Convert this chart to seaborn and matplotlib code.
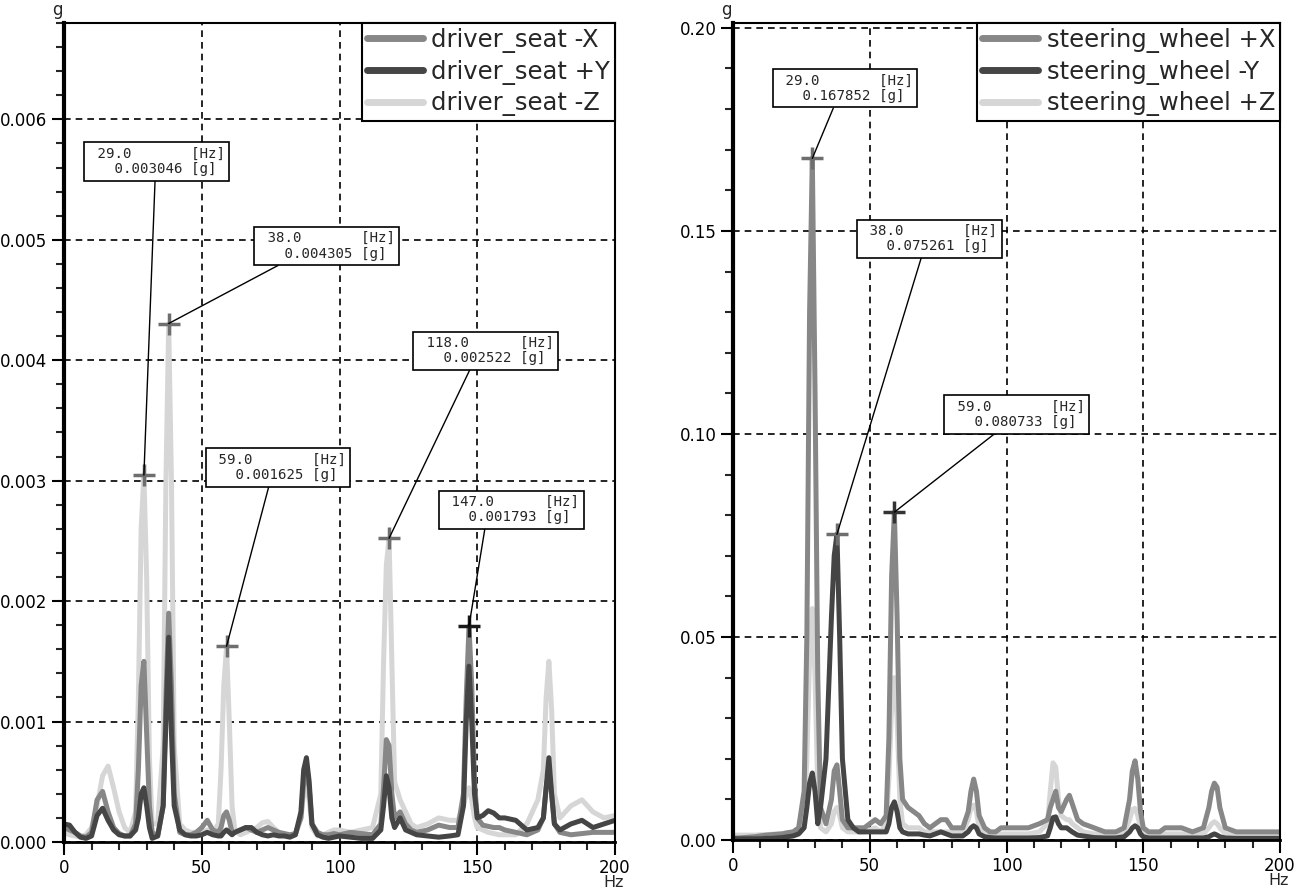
import numpy as np
import pandas as pd
import matplotlib
matplotlib.use("Agg")
import matplotlib.pyplot as plt
from matplotlib.ticker import MultipleLocator, FormatStrFormatter
import seaborn as sns

# ---------------- data ----------------
freq_hz = [0, 2, 4, 6, 8, 10, 12, 14, 16, 18,
           20, 22, 24, 26, 27, 28, 29, 30, 31, 32,
           34, 36, 37, 38, 39, 40, 42, 44, 46, 48,
           50, 52, 54, 56, 57, 58, 59, 60, 61, 62,
           64, 66, 68, 70, 72, 74, 76, 78, 80, 82,
           84, 86, 87, 88, 89, 90, 92, 94, 96, 98,
           100, 104, 108, 112, 115, 116, 117, 118, 119, 120,
           122, 123, 124, 126, 128, 132, 136, 140, 143, 145,
           146, 147, 148, 149, 150, 152, 154, 156, 158, 160,
           164, 168, 172, 174, 175, 176, 177, 178, 180, 184,
           188, 192, 196, 200]

# driver seat, values in mg (1e-3 g)
seat_x_mg = [0.12, 0.10, 0.08, 0.05, 0.04, 0.08, 0.35, 0.42, 0.25, 0.12,
             0.07, 0.05, 0.05, 0.15, 0.6, 1.3, 1.5, 0.9, 0.3, 0.08,
             0.05, 0.3, 1.2, 1.9, 1.3, 0.4, 0.08, 0.06, 0.06, 0.08,
             0.12, 0.18, 0.10, 0.08, 0.12, 0.22, 0.25, 0.18, 0.08, 0.08,
             0.10, 0.12, 0.10, 0.08, 0.10, 0.12, 0.10, 0.08, 0.07, 0.06,
             0.07, 0.20, 0.50, 0.60, 0.45, 0.15, 0.08, 0.06, 0.06, 0.07,
             0.06, 0.08, 0.07, 0.06, 0.15, 0.45, 0.85, 0.80, 0.40, 0.20,
             0.25, 0.20, 0.15, 0.10, 0.08, 0.10, 0.14, 0.12, 0.12, 0.40,
             1.2, 1.79, 1.3, 0.5, 0.2, 0.14, 0.13, 0.12, 0.12, 0.10,
             0.08, 0.06, 0.10, 0.20, 0.45, 0.60, 0.40, 0.15, 0.08, 0.06,
             0.07, 0.08, 0.08, 0.08]
seat_y_mg = [0.15, 0.14, 0.08, 0.04, 0.03, 0.05, 0.22, 0.28, 0.18, 0.10,
             0.06, 0.05, 0.05, 0.10, 0.20, 0.40, 0.45, 0.30, 0.12, 0.03,
             0.05, 0.30, 1.0, 1.7, 0.9, 0.30, 0.10, 0.06, 0.05, 0.05,
             0.06, 0.08, 0.06, 0.05, 0.05, 0.08, 0.10, 0.08, 0.06, 0.08,
             0.10, 0.12, 0.12, 0.08, 0.06, 0.05, 0.06, 0.05, 0.05, 0.04,
             0.06, 0.25, 0.60, 0.70, 0.50, 0.15, 0.06, 0.04, 0.03, 0.04,
             0.05, 0.04, 0.03, 0.03, 0.10, 0.30, 0.55, 0.45, 0.20, 0.12,
             0.20, 0.15, 0.10, 0.08, 0.06, 0.05, 0.04, 0.05, 0.06, 0.30,
             1.0, 1.46, 1.0, 0.40, 0.20, 0.22, 0.26, 0.24, 0.20, 0.20,
             0.18, 0.10, 0.12, 0.20, 0.45, 0.70, 0.40, 0.15, 0.10, 0.15,
             0.18, 0.12, 0.15, 0.18]
seat_z_mg = [0.08, 0.06, 0.05, 0.04, 0.06, 0.12, 0.30, 0.55, 0.63, 0.45,
             0.25, 0.12, 0.08, 0.25, 1.2, 2.6, 3.05, 2.2, 0.7, 0.15,
             0.15, 0.8, 3.0, 4.3, 3.0, 0.8, 0.15, 0.10, 0.08, 0.08,
             0.08, 0.10, 0.08, 0.15, 0.6, 1.3, 1.62, 1.0, 0.30, 0.10,
             0.06, 0.08, 0.10, 0.12, 0.16, 0.17, 0.12, 0.08, 0.06, 0.05,
             0.06, 0.20, 0.40, 0.46, 0.35, 0.12, 0.05, 0.06, 0.08, 0.10,
             0.10, 0.08, 0.10, 0.12, 0.40, 1.5, 2.3, 2.52, 1.5, 0.5,
             0.35, 0.30, 0.25, 0.15, 0.12, 0.15, 0.20, 0.18, 0.18, 0.30,
             0.40, 0.45, 0.35, 0.20, 0.12, 0.10, 0.08, 0.07, 0.06, 0.06,
             0.06, 0.15, 0.35, 0.60, 1.2, 1.5, 1.1, 0.40, 0.20, 0.30,
             0.35, 0.25, 0.20, 0.22]

# steering wheel, values in g
wheel_x_g = [0.0005, 0.0005, 0.0006, 0.0007, 0.0008, 0.001, 0.0012, 0.0013, 0.0014, 0.0015,
             0.0018, 0.002, 0.003, 0.012, 0.05, 0.13, 0.1679, 0.11, 0.04, 0.008,
             0.004, 0.01, 0.017, 0.0185, 0.012, 0.005, 0.003, 0.003, 0.003, 0.003,
             0.004, 0.005, 0.004, 0.006, 0.025, 0.065, 0.0807, 0.055, 0.02, 0.01,
             0.008, 0.007, 0.006, 0.004, 0.003, 0.004, 0.005, 0.005, 0.003, 0.003,
             0.003, 0.007, 0.012, 0.015, 0.012, 0.006, 0.003, 0.002, 0.002, 0.003,
             0.003, 0.003, 0.003, 0.004, 0.005, 0.008, 0.010, 0.012, 0.008, 0.007,
             0.010, 0.011, 0.009, 0.005, 0.004, 0.003, 0.002, 0.002, 0.003, 0.010,
             0.017, 0.0195, 0.015, 0.007, 0.003, 0.002, 0.002, 0.002, 0.003, 0.003,
             0.003, 0.002, 0.003, 0.008, 0.012, 0.014, 0.013, 0.008, 0.003, 0.002,
             0.002, 0.002, 0.002, 0.002]
wheel_y_g = [0.0003, 0.0003, 0.0003, 0.0003, 0.0003, 0.0003, 0.0004, 0.0004, 0.0005, 0.0006,
             0.0008, 0.001, 0.0015, 0.003, 0.008, 0.014, 0.0165, 0.012, 0.004, 0.008,
             0.02, 0.055, 0.07, 0.0753, 0.05, 0.02, 0.005, 0.003, 0.002, 0.002,
             0.002, 0.002, 0.002, 0.002, 0.004, 0.008, 0.0094, 0.007, 0.003, 0.002,
             0.0015, 0.0015, 0.0015, 0.0012, 0.001, 0.0015, 0.002, 0.0015, 0.001, 0.001,
             0.001, 0.002, 0.003, 0.0035, 0.003, 0.0015, 0.0008, 0.0006, 0.0005, 0.0005,
             0.0005, 0.0005, 0.0005, 0.0006, 0.001, 0.003, 0.0055, 0.0057, 0.004, 0.003,
             0.003, 0.0025, 0.002, 0.0012, 0.001, 0.0006, 0.0005, 0.0005, 0.0008, 0.002,
             0.003, 0.0035, 0.003, 0.0015, 0.0008, 0.0005, 0.0005, 0.0005, 0.0005, 0.0005,
             0.0005, 0.0005, 0.0005, 0.0008, 0.0012, 0.0015, 0.0012, 0.0008, 0.0005, 0.0004,
             0.0004, 0.0004, 0.0004, 0.0004]
wheel_z_g = [0.0012, 0.0012, 0.0012, 0.0012, 0.0012, 0.0013, 0.0013, 0.0014, 0.0015, 0.0016,
             0.0018, 0.002, 0.002, 0.005, 0.02, 0.045, 0.057, 0.04, 0.012, 0.003,
             0.002, 0.004, 0.007, 0.008, 0.006, 0.003, 0.002, 0.002, 0.002, 0.002,
             0.0025, 0.003, 0.002, 0.004, 0.015, 0.033, 0.04, 0.03, 0.01, 0.004,
             0.003, 0.003, 0.003, 0.002, 0.002, 0.002, 0.002, 0.002, 0.002, 0.002,
             0.002, 0.005, 0.008, 0.0086, 0.007, 0.003, 0.002, 0.0015, 0.0015, 0.0015,
             0.0015, 0.0015, 0.0015, 0.002, 0.004, 0.012, 0.019, 0.018, 0.010, 0.006,
             0.005, 0.005, 0.004, 0.003, 0.002, 0.0015, 0.0015, 0.0015, 0.002, 0.005,
             0.0075, 0.0078, 0.006, 0.003, 0.002, 0.0015, 0.0015, 0.0015, 0.0015, 0.0015,
             0.0015, 0.0015, 0.0015, 0.003, 0.004, 0.0045, 0.004, 0.003, 0.0015, 0.0015,
             0.0015, 0.0015, 0.0015, 0.0015]

seat_labels = ["driver_seat -X", "driver_seat +Y", "driver_seat -Z"]
wheel_labels = ["steering_wheel +X", "steering_wheel -Y", "steering_wheel +Z"]

seat_peak_hz = [29.0, 38.0, 59.0, 118.0, 147.0]
seat_peak_g = [0.003046, 0.004305, 0.001625, 0.002522, 0.001793]
wheel_peak_hz = [29.0, 38.0, 59.0]
wheel_peak_g = [0.167852, 0.075261, 0.080733]

# ---------------- layout / style ----------------
series_colors = ["#878787", "#454545", "#d6d6d6"]
marker_colors_seat = ["#6e6e6e", "#6e6e6e", "#6e6e6e", "#6e6e6e", "#1a1a1a"]
marker_colors_wheel = ["#6e6e6e", "#6e6e6e", "#333333"]
# box centres (data coords) and relative anchor of the leader line on the box
seat_boxes = [(33.6, 0.00565, 0.49), (95.3, 0.00495, 0.21), (77.7, 0.00311, 0.44),
              (153.0, 0.00408, 0.40), (162.4, 0.00276, 0.31)]
wheel_boxes = [(40.9, 0.1851, 0.43), (71.8, 0.1481, 0.45), (103.7, 0.1048, 0.38)]

sns.set_style("white")
plt.rcParams["font.family"] = ["DejaVu Sans"]

fig = plt.figure(figsize=(12.96, 8.9), dpi=100)
ax1 = fig.add_axes([64 / 1296, 1 - 842 / 890, 551 / 1296, 819 / 890])
ax2 = fig.add_axes([733 / 1296, 1 - 840 / 890, 547 / 1296, 817 / 890])


def build_df(values_list, labels, scale):
    frames = []
    for vals, lab in zip(values_list, labels):
        frames.append(pd.DataFrame({"Hz": freq_hz,
                                    "g": np.asarray(vals, dtype=float) * scale,
                                    "series": lab}))
    return pd.concat(frames, ignore_index=True)


df_seat = build_df([seat_x_mg, seat_y_mg, seat_z_mg], seat_labels, 1e-3)
df_wheel = build_df([wheel_x_g, wheel_y_g, wheel_z_g], wheel_labels, 1.0)


def draw_panel(ax, df, labels, ylim, ymajor, yminor, yfmt, peaks_hz, peaks_g,
               boxes, mcolors):
    sns.lineplot(data=df, x="Hz", y="g", hue="series", hue_order=labels,
                 palette=series_colors, estimator=None, sort=False,
                 linewidth=3.6, ax=ax, legend=False)
    # light series drawn behind
    for ln, z in zip(ax.lines, [2.2, 2.4, 2.0]):
        ln.set_zorder(z)
    ax.set_xlim(0, 200)
    ax.set_ylim(*ylim)
    ax.xaxis.set_major_locator(MultipleLocator(50))
    ax.xaxis.set_minor_locator(MultipleLocator(10))
    ax.yaxis.set_major_locator(MultipleLocator(ymajor))
    ax.yaxis.set_minor_locator(MultipleLocator(yminor))
    ax.yaxis.set_major_formatter(FormatStrFormatter(yfmt))
    ax.xaxis.set_major_formatter(FormatStrFormatter("%d"))
    ax.grid(True, which="major", color="black", linestyle=(0, (4, 3)), linewidth=1.2)
    ax.tick_params(axis="both", which="major", direction="out", length=9, width=1.5,
                   labelsize=12, colors="black", left=True, bottom=True, pad=3)
    ax.tick_params(axis="both", which="minor", direction="out", length=6, width=1.5,
                   left=True, bottom=True)
    for side, sp in ax.spines.items():
        sp.set_visible(True)
        sp.set_color("black")
        sp.set_linewidth(1.5)
    ax.spines["left"].set_linewidth(3)
    ax.spines["bottom"].set_linewidth(2)
    ax.set_xlabel("")
    ax.set_ylabel("")
    ax.annotate("g", xy=(0, 1), xycoords="axes fraction", xytext=(-5, 3),
                textcoords="offset points", ha="center", va="bottom", fontsize=12)
    ax.annotate("Hz", xy=(1, 0), xycoords="axes fraction", xytext=(-1, -24),
                textcoords="offset points", ha="center", va="top", fontsize=11.5)

    for hz, g, (bx, by, rx), mc in zip(peaks_hz, peaks_g, boxes, mcolors):
        ax.plot([hz], [g], marker="+", markersize=16, markeredgewidth=2.5,
                color=mc, zorder=5, linestyle="none")
        hz_txt = f"{hz:.1f}"
        txt = f" {hz_txt:<11}[Hz]\n   {g:.6f} [g] "
        ax.annotate(txt, xy=(hz, g), xytext=(bx, by), textcoords="data",
                    ha="center", va="center", fontsize=10.2,
                    family="DejaVu Sans Mono", linespacing=1.15, zorder=6,
                    bbox=dict(boxstyle="square,pad=0.3", fc="white", ec="black", lw=1.2),
                    arrowprops=dict(arrowstyle="-", color="black", lw=1.0,
                                    relpos=(rx, 0.0), shrinkA=0, shrinkB=0))

    handles = [plt.Line2D([], [], color=c, lw=5) for c in series_colors]
    leg = ax.legend(handles, labels, loc="upper right", borderaxespad=0,
                    fontsize=17.5, handlelength=2.3, handletextpad=0.35,
                    labelspacing=0.28, borderpad=0.2, fancybox=False,
                    framealpha=1, edgecolor="black")
    leg.get_frame().set_linewidth(1.5)
    leg.set_zorder(7)


draw_panel(ax1, df_seat, seat_labels, (0, 0.0068), 0.001, 0.0002, "%.3f",
           seat_peak_hz, seat_peak_g, seat_boxes, marker_colors_seat)
draw_panel(ax2, df_wheel, wheel_labels, (0, 0.2012), 0.05, 0.01, "%.2f",
           wheel_peak_hz, wheel_peak_g, wheel_boxes, marker_colors_wheel)

fig.savefig("out.png", dpi=100)
